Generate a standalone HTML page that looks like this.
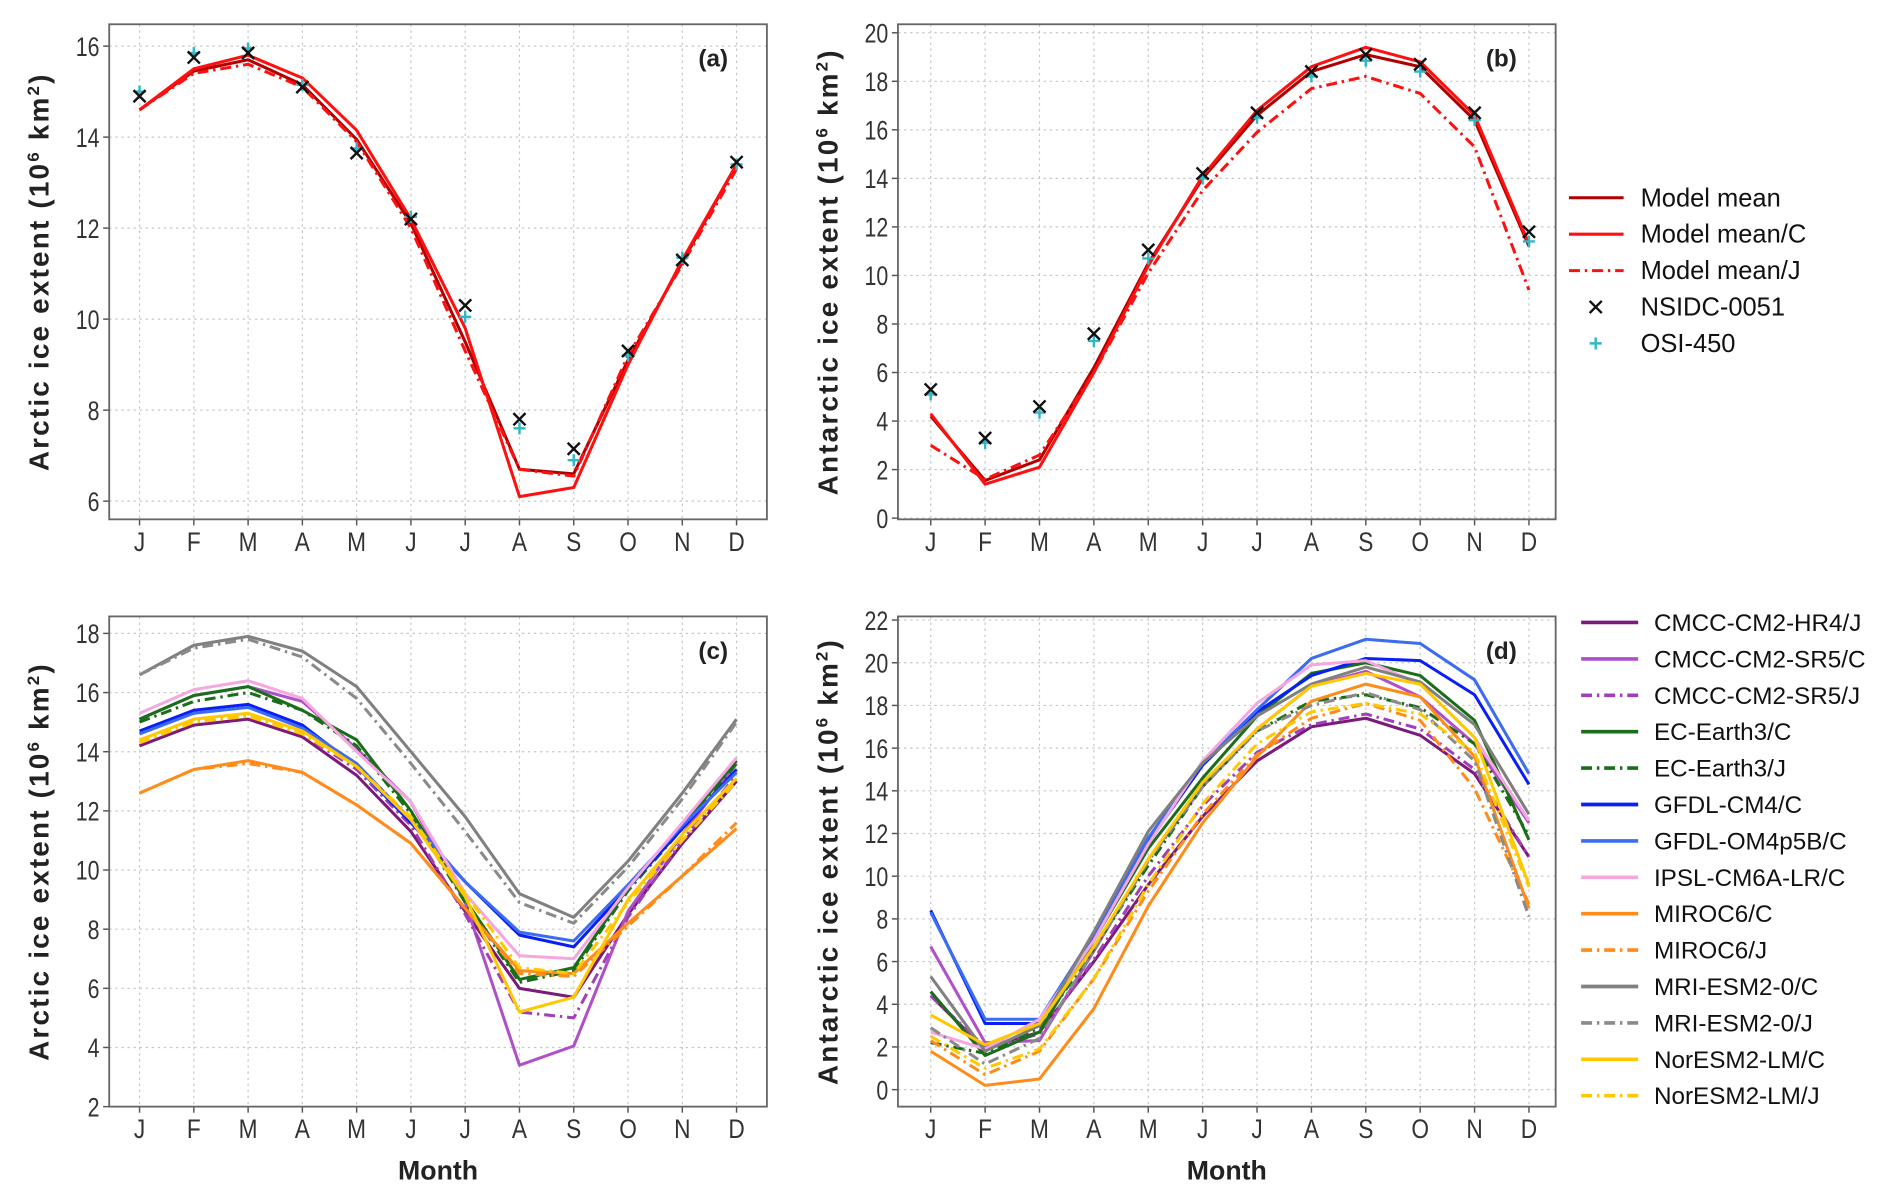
<!DOCTYPE html>
<html><head><meta charset="utf-8"><style>
html,body{margin:0;padding:0;background:#fff;}
svg{display:block;}
text{font-family:"Liberation Sans",sans-serif;}
</style></head><body>
<svg id="fig" width="1893" height="1194" viewBox="0 0 1560 984" preserveAspectRatio="none" xmlns="http://www.w3.org/2000/svg"></svg>
<script>
const months = ["J","F","M","A","M","J","J","A","S","O","N","D"];
// Panel a (Arctic)
const aMean = [14.6,15.45,15.7,15.15,13.95,12.1,9.5,6.7,6.6,9.1,11.25,13.4];
const aMeanC = [14.6,15.5,15.8,15.3,14.15,12.2,9.8,6.1,6.3,9.0,11.3,13.4];
const aMeanJ = [14.6,15.4,15.6,15.1,13.9,12.0,9.3,6.7,6.55,9.2,11.2,13.3];
const aNSIDC = [14.9,15.75,15.85,15.1,13.65,12.2,10.3,7.8,7.15,9.3,11.3,13.45];
const aOSI = [15.0,15.85,15.95,15.15,13.75,12.25,10.05,7.6,6.9,9.2,11.35,13.4];
const aTicks = [6,8,10,12,14,16];
// Panel b (Antarctic)
const bMean = [4.2,1.55,2.4,6.2,10.5,14.0,16.6,18.4,19.1,18.6,16.4,11.2];
const bMeanC = [4.3,1.4,2.1,6.0,10.4,14.1,16.8,18.6,19.4,18.8,16.6,11.3];
const bMeanJ = [3.0,1.6,2.6,6.0,10.1,13.5,15.9,17.7,18.2,17.5,15.3,9.4];
const bNSIDC = [5.3,3.3,4.6,7.6,11.05,14.2,16.7,18.4,19.1,18.7,16.7,11.8];
const bOSI = [5.1,3.1,4.35,7.3,10.7,14.0,16.5,18.2,18.85,18.4,16.4,11.4];
const bTicks = [0,2,4,6,8,10,12,14,16,18,20];
// Panel c (Arctic models)
const cHR4J = [14.2,14.9,15.1,14.5,13.2,11.3,8.6,6.0,5.7,8.5,10.9,13.0];
const cSR5C = [15.1,15.9,16.2,15.7,14.1,12.3,8.9,3.4,4.05,8.6,11.2,13.6];
const cSR5J = [14.3,15.0,15.2,14.6,13.4,11.5,8.5,5.2,5.0,8.4,11.0,13.2];
const cECC = [15.1,15.9,16.2,15.4,14.4,12.0,9.0,6.3,6.7,9.4,11.5,13.7];
const cECJ = [15.0,15.7,16.0,15.4,14.2,11.9,8.9,6.2,6.6,9.3,11.4,13.6];
const cCM4 = [14.7,15.4,15.6,14.9,13.5,11.6,9.6,7.8,7.4,9.4,11.4,13.4];
const cOM4 = [14.6,15.3,15.5,14.8,13.6,11.7,9.6,7.9,7.6,9.5,11.5,13.3];
const cIPSL = [15.3,16.1,16.4,15.8,14.0,12.3,9.2,7.1,7.0,9.4,11.6,13.8];
const cMIROCC = [12.6,13.4,13.7,13.3,12.2,10.9,8.7,6.6,6.5,8.2,9.8,11.4];
const cMIROCJ = [12.6,13.4,13.6,13.3,12.2,10.9,8.7,6.5,6.4,8.1,9.8,11.6];
const cMRIC = [16.6,17.6,17.9,17.4,16.2,14.0,11.8,9.2,8.4,10.3,12.6,15.1];
const cMRIJ = [16.6,17.5,17.8,17.2,15.8,13.6,11.3,8.9,8.2,10.1,12.4,15.0];
const cNorC = [14.4,15.1,15.3,14.7,13.5,11.7,9.1,5.2,5.7,9.0,11.2,13.1];
const cNorJ = [14.3,15.0,15.2,14.6,13.5,11.8,9.2,6.7,6.5,8.9,11.0,13.0];
const cTicks = [2,4,6,8,10,12,14,16,18];
// Panel d (Antarctic models)
const dHR4J = [4.4,1.9,2.7,6.0,9.6,12.8,15.4,17.0,17.4,16.6,14.8,10.9];
const dSR5C = [6.7,2.2,2.3,6.5,10.8,14.2,16.9,18.9,19.6,18.4,16.2,12.5];
const dSR5J = [4.4,2.0,2.6,6.1,10.0,13.3,15.8,17.1,17.6,16.9,15.0,10.9];
const dECC = [4.6,1.6,2.7,7.0,11.3,14.6,17.5,19.5,20.0,19.4,17.3,11.7];
const dECJ = [2.2,1.7,2.9,6.6,10.5,14.2,16.8,18.2,18.5,17.9,16.2,11.9];
const dCM4 = [8.4,3.1,3.1,7.2,11.6,15.2,17.7,19.4,20.2,20.1,18.5,14.3];
const dOM4 = [8.3,3.3,3.3,7.3,11.8,15.3,17.8,20.2,21.1,20.9,19.2,14.8];
const dIPSL = [2.7,1.9,3.3,7.0,11.5,15.4,18.1,19.9,20.1,19.0,16.5,12.6];
const dMIROCC = [1.8,0.2,0.5,3.8,8.6,12.5,15.6,18.2,19.0,18.4,15.6,8.5];
const dMIROCJ = [2.3,0.7,1.8,5.2,9.3,12.9,15.7,17.4,18.1,17.3,14.1,8.7];
const dMRIC = [5.3,1.8,3.0,7.4,12.1,15.3,17.5,19.0,19.8,19.1,17.1,12.9];
const dMRIJ = [2.9,1.2,2.4,6.5,10.7,14.2,16.8,18.0,18.6,17.8,15.4,8.1];
const dNorC = [3.5,2.1,3.1,6.7,10.8,14.4,16.9,18.9,19.5,19.0,16.5,9.6];
const dNorJ = [2.5,1.0,1.9,5.2,9.6,13.4,16.2,17.7,18.1,17.6,15.8,9.5];
const dTicks = [0,2,4,6,8,10,12,14,16,18,20,22];
const modelNames = ["CMCC-CM2-HR4/J","CMCC-CM2-SR5/C","CMCC-CM2-SR5/J","EC-Earth3/C","EC-Earth3/J","GFDL-CM4/C","GFDL-OM4p5B/C","IPSL-CM6A-LR/C","MIROC6/C","MIROC6/J","MRI-ESM2-0/C","MRI-ESM2-0/J","NorESM2-LM/C","NorESM2-LM/J"];

const NS="http://www.w3.org/2000/svg";
const svg=document.getElementById('fig');
function el(tag,attrs,parent){const e=document.createElementNS(NS,tag);for(const k in attrs)e.setAttribute(k,attrs[k]);(parent||svg).appendChild(e);return e;}
const DD="9,4,2,4";
const styles=[
 {c:"#7a1a7a",d:null,w:2.5},{c:"#b050c8",d:null,w:2.5},{c:"#a040b8",d:DD,w:2.5},
 {c:"#1a6e1a",d:null,w:2.5},{c:"#1a6e1a",d:DD,w:2.5},{c:"#0a1ef5",d:null,w:2.5},
 {c:"#3c6cf0",d:null,w:2.5},{c:"#f5a8e0",d:null,w:2.5},{c:"#ff8c1a",d:null,w:2.5},
 {c:"#ff8c1a",d:DD,w:2.5},{c:"#808080",d:null,w:2.5},{c:"#8a8a8a",d:DD,w:2.5},
 {c:"#ffc800",d:null,w:2.5},{c:"#ffc800",d:DD,w:2.5}];

function panel(p){
 const g=el('g',{});
 
 
 const xs=i=>p.xJ+(p.xD-p.xJ)*i/11;
 const ys=v=>p.yB+(v-p.vB)*(p.yT-p.yB)/(p.vT-p.vB);
 months.forEach((m,i)=>{const l=el('line',{x1:xs(i),x2:xs(i),y1:p.top,y2:p.bot,stroke:"#c8c8c8","stroke-width":1,"stroke-dasharray":"2,3"},g);
  });
 p.ticks.forEach(v=>{const l=el('line',{x1:p.left,x2:p.right,y1:ys(v),y2:ys(v),stroke:"#c8c8c8","stroke-width":1,"stroke-dasharray":"2,3"},g);
  
  const tk=el('line',{x1:p.left-5,x2:p.left,y1:ys(v),y2:ys(v),stroke:"#555","stroke-width":1.2},g);
  
  const t=el('text',{x:p.left-8,y:ys(v)+8,"text-anchor":"end","font-size":22,fill:"#333",transform:`translate(${p.left-8},0) scale(0.8,1) translate(${-(p.left-8)},0)`},g);
  t.textContent=v;});
 months.forEach((m,i)=>{
  const tk=el('line',{x1:xs(i),x2:xs(i),y1:p.bot,y2:p.bot+5,stroke:"#555","stroke-width":1.2},g);
  
  const t=el('text',{x:xs(i),y:p.bot+26,"text-anchor":"middle","font-size":22,fill:"#333",transform:`translate(${xs(i)},0) scale(0.85,1) translate(${-xs(i)},0)`},g);
  t.textContent=m;});
 const box=el('rect',{x:p.left,y:p.top,width:p.right-p.left,height:p.bot-p.top,fill:"none",stroke:"#666","stroke-width":1.5},g);
 
 p.series.forEach(s=>{
  const pl=el('polyline',{points:s.v.map((v,i)=>xs(i)+","+ys(v)).join(" "),fill:"none",stroke:s.c,"stroke-width":s.w,"stroke-linejoin":"round"},g);
  if(s.d)pl.setAttribute('stroke-dasharray',s.d);
  });
 (p.marks||[]).forEach(mk=>{
  mk.v.forEach((v,i)=>{const x=xs(i),y=ys(v),r=5;
   const m=el('path',{d:mk.t==='x'?`M${x-r},${y-r}L${x+r},${y+r}M${x-r},${y+r}L${x+r},${y-r}`:`M${x-r},${y}L${x+r},${y}M${x},${y-r}L${x},${y+r}`,stroke:mk.c,"stroke-width":2,fill:"none"},g);
   });});
 const lab=el('text',{x:p.right-32,y:p.top+35,"text-anchor":"end","font-size":20,"font-weight":"bold",fill:"#222"},g);
 lab.textContent=p.label;
 const cy=(p.top+p.bot)/2, cx=p.left-50;
 const yl=el('text',{x:cx,y:cy,"text-anchor":"middle","font-size":23,"font-weight":"bold",fill:"#222","letter-spacing":"1.8",transform:`rotate(-90 ${cx} ${cy})`},g);
 yl.innerHTML=p.ylab+' (10<tspan dy="-8" font-size="14">6</tspan><tspan dy="8"> km</tspan><tspan dy="-8" font-size="14">2</tspan><tspan dy="8">)</tspan>';
 
 if(p.xlab){const t=el('text',{x:(p.left+p.right)/2,y:p.bot+60,"text-anchor":"middle","font-size":22,"font-weight":"bold",fill:"#222"},g);
  t.textContent="Month";}
}
const meanStyles=[{n:"model-mean-line",c:"#b00000",d:null,w:2.5},{n:"model-mean-c-line",c:"#ff1010",d:null,w:2.5},{n:"model-mean-j-line",c:"#ff1010",d:DD,w:2.5}];
panel({name:"panel-a",label:"(a)",ylab:"Arctic ice extent",left:90,right:632,top:20,bot:428,xJ:115,xD:607,vB:6,vT:16,yB:413,yT:38,ticks:aTicks,
 series:[aMean,aMeanC,aMeanJ].map((v,i)=>Object.assign({v},meanStyles[i])),
 marks:[{v:aOSI,t:'+',c:"#30b8c8",n:"osi-450-marker"},{v:aNSIDC,t:'x',c:"#111",n:"nsidc-marker"}]});
panel({name:"panel-b",label:"(b)",ylab:"Antarctic ice extent",left:740,right:1282,top:20,bot:428,xJ:767,xD:1260,vB:0,vT:20,yB:427,yT:27,ticks:bTicks,
 series:[bMean,bMeanC,bMeanJ].map((v,i)=>Object.assign({v},meanStyles[i])),
 marks:[{v:bOSI,t:'+',c:"#30b8c8",n:"osi-450-marker"},{v:bNSIDC,t:'x',c:"#111",n:"nsidc-marker"}]});
const cS=[cHR4J,cSR5C,cSR5J,cECC,cECJ,cCM4,cOM4,cIPSL,cMIROCC,cMIROCJ,cMRIC,cMRIJ,cNorC,cNorJ];
const dS=[dHR4J,dSR5C,dSR5J,dECC,dECJ,dCM4,dOM4,dIPSL,dMIROCC,dMIROCJ,dMRIC,dMRIJ,dNorC,dNorJ];
const slug=s=>s.toLowerCase().replace(/[^a-z0-9]+/g,'-')+'-line';
panel({name:"panel-c",label:"(c)",ylab:"Arctic ice extent",xlab:1,left:90,right:632,top:508,bot:912,xJ:115,xD:607,vB:2,vT:18,yB:912,yT:522,ticks:cTicks,
 series:cS.map((v,i)=>Object.assign({v,n:slug(modelNames[i])},styles[i]))});
panel({name:"panel-d",label:"(d)",ylab:"Antarctic ice extent",xlab:1,left:740,right:1282,top:508,bot:912,xJ:767,xD:1260,vB:0,vT:22,yB:898,yT:511,ticks:dTicks,
 series:dS.map((v,i)=>Object.assign({v,n:slug(modelNames[i])},styles[i]))});
const lg1=el('g',{});


const topEntries=["Model mean","Model mean/C","Model mean/J","NSIDC-0051","OSI-450"];
topEntries.forEach((n,i)=>{const y=163+30*i;
 if(i<3){const l=el('line',{x1:1293,x2:1338,y1:y,y2:y,stroke:meanStyles[i].c,"stroke-width":2.5},lg1);if(meanStyles[i].d)l.setAttribute('stroke-dasharray',meanStyles[i].d);
  }
 else{const x=1315,r=5;const m=el('path',{d:i===3?`M${x-r},${y-r}L${x+r},${y+r}M${x-r},${y+r}L${x+r},${y-r}`:`M${x-r},${y}L${x+r},${y}M${x},${y-r}L${x},${y+r}`,stroke:i===3?"#111":"#30b8c8","stroke-width":2},lg1);
  }
 const t=el('text',{x:1352,y:y+7,"font-size":21,fill:"#111"},lg1);t.textContent=n;
 });
const lg2=el('g',{});


modelNames.forEach((n,i)=>{const y=513+30*i;
 const l=el('line',{x1:1303,x2:1350,y1:y,y2:y,stroke:styles[i].c,"stroke-width":3},lg2);if(styles[i].d)l.setAttribute('stroke-dasharray',styles[i].d);
 
 const t=el('text',{x:1363,y:y+7,"font-size":20,fill:"#111"},lg2);t.textContent=n;
 });
</script>
</body></html>
